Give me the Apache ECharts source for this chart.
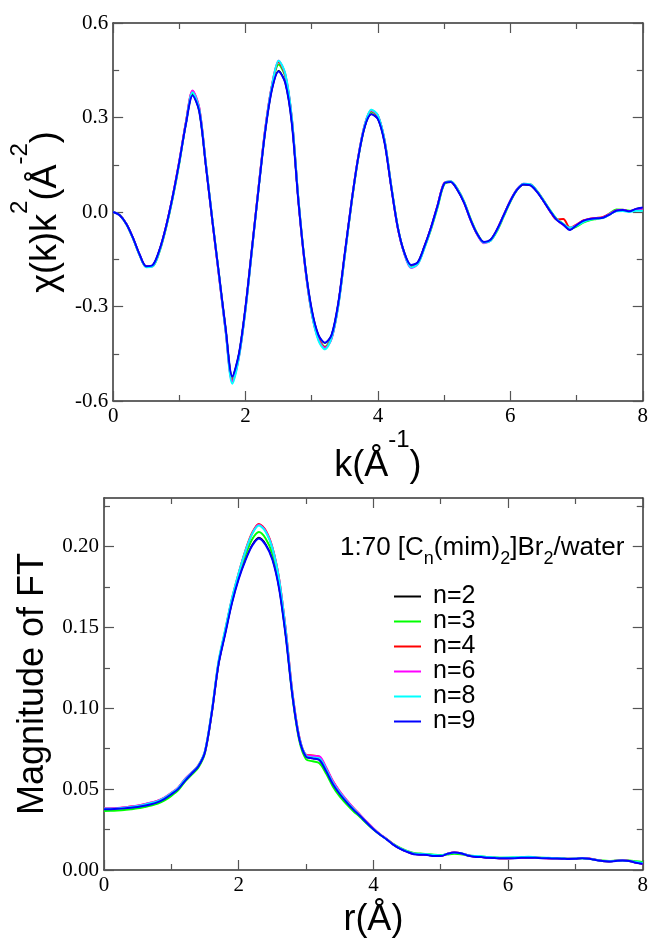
<!DOCTYPE html>
<html>
<head>
<meta charset="utf-8">
<script src="https://cdn.jsdelivr.net/npm/echarts@6/dist/echarts.min.js"></script>
<style>
html,body{margin:0;padding:0;background:#fff;}
#chart{width:651px;height:943px;}
</style>
</head>
<body>
<div id="chart"></div>
<script>
// ---------- DATA ----------
var seriesNames = ['n=2', 'n=3', 'n=4', 'n=6', 'n=8', 'n=9'];
var seriesColors = ['#000000', '#00ff00', '#ff0000', '#ff00ff', '#00ffff', '#0000ff'];

// k grid (Å^-1) and r grid (Å)
var kValues = [0.0,0.1,0.2,0.3,0.4,0.5,0.6,0.7,0.8,0.9,1.0,1.1,1.2,1.3,1.4,1.5,1.6,1.7,1.8,1.9,2.0,2.1,2.2,2.3,2.4,2.5,2.6,2.7,2.8,2.9,3.0,3.1,3.2,3.3,3.4,3.5,3.6,3.7,3.8,3.9,4.0,4.1,4.2,4.3,4.4,4.5,4.6,4.7,4.8,4.9,5.0,5.1,5.2,5.3,5.4,5.5,5.6,5.7,5.8,5.9,6.0,6.1,6.2,6.3,6.4,6.5,6.6,6.7,6.8,6.9,7.0,7.1,7.2,7.3,7.4,7.5,7.6,7.7,7.8,7.9,8.0];
var rValues = [0.0,0.1,0.2,0.3,0.4,0.5,0.6,0.7,0.8,0.9,1.0,1.1,1.2,1.3,1.4,1.5,1.6,1.7,1.8,1.9,2.0,2.1,2.2,2.3,2.4,2.5,2.6,2.7,2.8,2.9,3.0,3.1,3.2,3.3,3.4,3.5,3.6,3.7,3.8,3.9,4.0,4.1,4.2,4.3,4.4,4.5,4.6,4.7,4.8,4.9,5.0,5.1,5.2,5.3,5.4,5.5,5.6,5.7,5.8,5.9,6.0,6.1,6.2,6.3,6.4,6.5,6.6,6.7,6.8,6.9,7.0,7.1,7.2,7.3,7.4,7.5,7.6,7.7,7.8,7.9,8.0];

// chi(k)k^2 for each n
var chiN2 = [0.000,-0.010,-0.038,-0.082,-0.135,-0.172,-0.168,-0.120,-0.045,0.050,0.160,0.280,0.372,0.320,0.148,-0.030,-0.200,-0.370,-0.524,-0.450,-0.300,-0.110,0.080,0.260,0.390,0.448,0.410,0.280,0.030,-0.170,-0.310,-0.390,-0.416,-0.390,-0.290,-0.130,0.030,0.170,0.270,0.311,0.295,0.220,0.080,-0.050,-0.130,-0.169,-0.160,-0.110,-0.050,0.020,0.090,0.095,0.070,0.030,-0.025,-0.070,-0.095,-0.088,-0.055,-0.010,0.035,0.070,0.087,0.085,0.065,0.035,0.003,-0.025,-0.040,-0.056,-0.042,-0.028,-0.022,-0.020,-0.018,-0.008,0.004,0.006,0.002,0.010,0.013];
var chiN3 = [0.000,-0.010,-0.039,-0.084,-0.137,-0.174,-0.172,-0.126,-0.050,0.044,0.155,0.285,0.378,0.325,0.152,-0.028,-0.200,-0.375,-0.530,-0.455,-0.305,-0.112,0.082,0.265,0.400,0.468,0.430,0.292,0.036,-0.170,-0.318,-0.400,-0.428,-0.398,-0.296,-0.136,0.026,0.168,0.272,0.318,0.303,0.226,0.084,-0.048,-0.132,-0.172,-0.164,-0.114,-0.056,0.014,0.088,0.097,0.074,0.034,-0.022,-0.068,-0.096,-0.091,-0.060,-0.014,0.032,0.070,0.089,0.088,0.068,0.038,0.006,-0.022,-0.038,-0.054,-0.046,-0.034,-0.026,-0.022,-0.018,-0.004,0.008,0.007,0.004,0.006,0.006];
var chiN4 = [0.000,-0.010,-0.038,-0.083,-0.136,-0.173,-0.170,-0.122,-0.046,0.050,0.162,0.285,0.384,0.330,0.152,-0.030,-0.204,-0.378,-0.535,-0.458,-0.306,-0.112,0.084,0.268,0.402,0.476,0.435,0.294,0.034,-0.174,-0.320,-0.402,-0.430,-0.400,-0.296,-0.134,0.030,0.172,0.276,0.322,0.305,0.226,0.082,-0.050,-0.132,-0.174,-0.164,-0.112,-0.052,0.020,0.092,0.097,0.072,0.031,-0.025,-0.071,-0.097,-0.090,-0.056,-0.010,0.036,0.072,0.089,0.087,0.066,0.036,0.003,-0.024,-0.022,-0.050,-0.040,-0.027,-0.021,-0.019,-0.016,-0.006,0.004,0.006,0.002,0.008,0.010];
var chiN6 = [0.000,-0.010,-0.038,-0.083,-0.136,-0.174,-0.171,-0.123,-0.046,0.050,0.162,0.286,0.386,0.332,0.153,-0.030,-0.205,-0.380,-0.538,-0.460,-0.307,-0.113,0.084,0.269,0.404,0.480,0.437,0.295,0.034,-0.175,-0.321,-0.404,-0.432,-0.402,-0.297,-0.135,0.030,0.172,0.277,0.323,0.306,0.227,0.082,-0.052,-0.134,-0.178,-0.166,-0.113,-0.052,0.020,0.092,0.097,0.072,0.031,-0.026,-0.072,-0.099,-0.091,-0.056,-0.010,0.036,0.072,0.090,0.088,0.066,0.036,0.003,-0.024,-0.041,-0.052,-0.041,-0.028,-0.022,-0.020,-0.017,-0.006,0.005,0.007,0.002,0.009,0.010];
var chiN8 = [0.000,-0.010,-0.039,-0.084,-0.137,-0.175,-0.172,-0.124,-0.048,0.047,0.158,0.282,0.380,0.328,0.154,-0.026,-0.202,-0.380,-0.545,-0.462,-0.310,-0.116,0.080,0.265,0.402,0.480,0.440,0.298,0.038,-0.172,-0.322,-0.408,-0.436,-0.400,-0.300,-0.138,0.028,0.170,0.276,0.325,0.307,0.228,0.085,-0.048,-0.132,-0.176,-0.166,-0.116,-0.054,0.016,0.090,0.098,0.073,0.033,-0.024,-0.070,-0.097,-0.091,-0.058,-0.012,0.034,0.071,0.090,0.088,0.067,0.037,0.005,-0.023,-0.038,-0.050,-0.044,-0.032,-0.025,-0.021,-0.019,-0.008,0.002,0.003,0.000,0.004,0.004];
var chiN9 = [0.000,-0.010,-0.038,-0.082,-0.135,-0.172,-0.168,-0.120,-0.045,0.050,0.160,0.280,0.370,0.320,0.148,-0.030,-0.200,-0.370,-0.522,-0.450,-0.300,-0.110,0.080,0.260,0.390,0.446,0.410,0.280,0.030,-0.170,-0.310,-0.390,-0.415,-0.390,-0.290,-0.130,0.030,0.170,0.270,0.310,0.295,0.220,0.080,-0.050,-0.130,-0.168,-0.160,-0.110,-0.050,0.020,0.090,0.095,0.070,0.030,-0.025,-0.070,-0.095,-0.088,-0.055,-0.010,0.035,0.070,0.087,0.085,0.065,0.035,0.003,-0.025,-0.040,-0.057,-0.042,-0.028,-0.022,-0.020,-0.018,-0.008,0.004,0.006,0.002,0.010,0.014];

// Magnitude of FT for each n
var ftN2 = [0.0376,0.0377,0.0379,0.0382,0.0386,0.0391,0.0398,0.0408,0.0421,0.0441,0.0469,0.0501,0.0551,0.0596,0.0641,0.0731,0.0970,0.1270,0.1462,0.1652,0.1803,0.1918,0.2010,0.2055,0.2015,0.1924,0.1743,0.1442,0.1071,0.0810,0.0700,0.0690,0.0681,0.0611,0.0531,0.0471,0.0421,0.0376,0.0336,0.0293,0.0253,0.0219,0.0189,0.0156,0.0131,0.0113,0.0099,0.0095,0.0093,0.0087,0.0086,0.0100,0.0108,0.0104,0.0090,0.0082,0.0080,0.0076,0.0074,0.0072,0.0072,0.0073,0.0075,0.0076,0.0075,0.0073,0.0072,0.0071,0.0070,0.0068,0.0069,0.0073,0.0070,0.0062,0.0055,0.0052,0.0056,0.0059,0.0055,0.0045,0.0038];
var ftN3 = [0.0365,0.0366,0.0368,0.0371,0.0376,0.0381,0.0389,0.0398,0.0410,0.0430,0.0458,0.0492,0.0545,0.0588,0.0632,0.0725,0.0970,0.1275,0.1475,0.1665,0.1815,0.1945,0.2045,0.2090,0.2050,0.1955,0.1765,0.1455,0.1070,0.0800,0.0685,0.0672,0.0660,0.0595,0.0515,0.0455,0.0408,0.0365,0.0328,0.0288,0.0250,0.0218,0.0190,0.0160,0.0136,0.0118,0.0105,0.0102,0.0098,0.0094,0.0092,0.0096,0.0100,0.0098,0.0090,0.0086,0.0084,0.0080,0.0078,0.0076,0.0076,0.0077,0.0078,0.0078,0.0077,0.0075,0.0074,0.0073,0.0072,0.0070,0.0070,0.0072,0.0070,0.0064,0.0058,0.0056,0.0058,0.0060,0.0058,0.0054,0.0050];
var ftN4 = [0.0380,0.0381,0.0383,0.0387,0.0392,0.0398,0.0406,0.0416,0.0428,0.0448,0.0476,0.0508,0.0560,0.0602,0.0646,0.0735,0.0975,0.1280,0.1480,0.1675,0.1835,0.1975,0.2085,0.2140,0.2100,0.1995,0.1800,0.1480,0.1090,0.0822,0.0712,0.0708,0.0700,0.0630,0.0548,0.0485,0.0432,0.0385,0.0342,0.0298,0.0257,0.0221,0.0190,0.0157,0.0132,0.0114,0.0100,0.0096,0.0094,0.0088,0.0087,0.0101,0.0108,0.0104,0.0091,0.0083,0.0081,0.0077,0.0075,0.0073,0.0073,0.0074,0.0076,0.0077,0.0076,0.0074,0.0073,0.0072,0.0071,0.0069,0.0070,0.0074,0.0071,0.0063,0.0056,0.0053,0.0057,0.0060,0.0056,0.0047,0.0040];
var ftN6 = [0.0381,0.0382,0.0384,0.0388,0.0393,0.0399,0.0407,0.0417,0.0429,0.0449,0.0477,0.0509,0.0561,0.0603,0.0646,0.0734,0.0974,0.1279,0.1478,0.1672,0.1832,0.1972,0.2080,0.2135,0.2096,0.1992,0.1798,0.1478,0.1089,0.0821,0.0711,0.0705,0.0702,0.0632,0.0549,0.0486,0.0433,0.0386,0.0342,0.0298,0.0257,0.0221,0.0190,0.0157,0.0132,0.0114,0.0100,0.0096,0.0094,0.0088,0.0087,0.0101,0.0108,0.0104,0.0091,0.0083,0.0081,0.0077,0.0075,0.0073,0.0073,0.0074,0.0076,0.0077,0.0076,0.0074,0.0073,0.0072,0.0071,0.0069,0.0070,0.0074,0.0071,0.0063,0.0056,0.0053,0.0057,0.0060,0.0056,0.0046,0.0039];
var ftN8 = [0.0378,0.0379,0.0381,0.0385,0.0390,0.0396,0.0404,0.0414,0.0426,0.0446,0.0474,0.0506,0.0558,0.0600,0.0645,0.0738,0.0982,0.1290,0.1488,0.1680,0.1836,0.1972,0.2078,0.2130,0.2092,0.1990,0.1796,0.1475,0.1085,0.0818,0.0706,0.0695,0.0690,0.0622,0.0540,0.0478,0.0426,0.0380,0.0338,0.0294,0.0254,0.0219,0.0189,0.0157,0.0133,0.0116,0.0102,0.0099,0.0097,0.0092,0.0090,0.0100,0.0106,0.0103,0.0092,0.0087,0.0085,0.0080,0.0078,0.0076,0.0077,0.0079,0.0080,0.0082,0.0079,0.0076,0.0075,0.0073,0.0072,0.0070,0.0071,0.0073,0.0070,0.0063,0.0056,0.0054,0.0057,0.0059,0.0056,0.0049,0.0044];
var ftN9 = [0.0375,0.0376,0.0378,0.0381,0.0385,0.0390,0.0397,0.0407,0.0420,0.0440,0.0468,0.0500,0.0550,0.0595,0.0640,0.0730,0.0970,0.1270,0.1460,0.1650,0.1800,0.1915,0.2005,0.2050,0.2010,0.1920,0.1740,0.1440,0.1070,0.0810,0.0700,0.0690,0.0680,0.0610,0.0530,0.0470,0.0420,0.0375,0.0335,0.0292,0.0252,0.0218,0.0188,0.0155,0.0130,0.0112,0.0098,0.0094,0.0093,0.0086,0.0086,0.0100,0.0108,0.0104,0.0090,0.0082,0.0080,0.0076,0.0074,0.0072,0.0072,0.0073,0.0075,0.0076,0.0075,0.0073,0.0072,0.0071,0.0070,0.0068,0.0069,0.0073,0.0070,0.0062,0.0055,0.0052,0.0056,0.0059,0.0055,0.0045,0.0038];

var chiSets = [chiN2, chiN3, chiN4, chiN6, chiN8, chiN9];
var ftSets = [ftN2, ftN3, ftN4, ftN6, ftN8, ftN9];

// tick values
var xTicks = [0, 2, 4, 6, 8];
var chiTicks = [-0.6, -0.3, 0.0, 0.3, 0.6];
var ftMajorTicks = [0, 0.05, 0.10, 0.15, 0.20];
var ftMinorTicks = [0.025, 0.075, 0.125, 0.175, 0.225];

// ---------- STYLE ----------
var serif = 'Liberation Serif';
var sans = 'Liberation Sans';
var frameColor = '#333';
var tickColor = '#555';

function boxAxis(extra) {
  var base = {
    type: 'value',
    splitLine: { show: false },
    axisLine: { show: true, onZero: false, lineStyle: { color: frameColor, width: 1.5 } },
    axisTick: { show: true, inside: true, length: 10, lineStyle: { color: tickColor, width: 1.2 } },
    minorTick: { show: true, splitNumber: 2, length: 6, lineStyle: { color: tickColor, width: 1.2 } },
    axisLabel: { show: false }
  };
  for (var key in extra) base[key] = extra[key];
  return base;
}

var nameRich = {
  m: { fontFamily: sans, fontSize: 36, lineHeight: 36, color: '#000', padding: [20, 0, 0, 0], verticalAlign: 'top' },
  s: { fontFamily: sans, fontSize: 24, lineHeight: 24, color: '#000', verticalAlign: 'top' },
  p: { fontFamily: sans, fontSize: 36, lineHeight: 36, color: '#000' }
};

var chart = echarts.init(document.getElementById('chart'), null, { renderer: 'canvas' });

var series = [];
seriesNames.forEach(function (nm, i) {
  series.push({
    name: nm, type: 'line', xAxisIndex: 0, yAxisIndex: 0,
    data: kValues.map(function (k, j) { return [k, chiSets[i][j]]; }),
    showSymbol: false, symbol: 'none', smooth: 0.3,
    lineStyle: { color: seriesColors[i], width: i === 0 ? 1.6 : 2 },
    itemStyle: { color: seriesColors[i] },
    z: 2 + i, animation: false
  });
});
seriesNames.forEach(function (nm, i) {
  series.push({
    name: nm, type: 'line', xAxisIndex: 2, yAxisIndex: 2,
    data: rValues.map(function (r, j) { return [r, ftSets[i][j]]; }),
    showSymbol: false, symbol: 'none', smooth: 0.3,
    lineStyle: { color: seriesColors[i], width: i === 0 ? 1.6 : 2 },
    itemStyle: { color: seriesColors[i] },
    z: 2 + i, animation: false
  });
});

var option = {
  backgroundColor: '#fff',
  animation: false,
  title: {
    left: 335, top: 530,
    text: '{m|1:70 [C}{sub|n}{m|(mim)}{sub|2}{m|]Br}{sub|2}{m|/water}',
    textStyle: {
      fontWeight: 'normal',
      rich: {
        m: { fontFamily: sans, fontSize: 26, lineHeight: 26, color: '#000', verticalAlign: 'top' },
        sub: { fontFamily: sans, fontSize: 18, lineHeight: 18, color: '#000', verticalAlign: 'top', padding: [15, 0, 0, 0] }
      }
    }
  },
  legend: {
    data: seriesNames,
    orient: 'vertical',
    left: 389, top: 579,
    itemWidth: 27, itemHeight: 2, itemGap: 0,
    icon: 'rect',
    selectedMode: false,
    textStyle: { fontFamily: sans, fontSize: 25, color: '#000', lineHeight: 25, padding: [0, 0, 0, 7] }
  },
  grid: [
    { left: 104, top: 23, width: 539, height: 378 },
    { left: 104, top: 498, width: 539, height: 372 }
  ],
  xAxis: [
    boxAxis({ gridIndex: 0, position: 'bottom', min: 0, max: 8, interval: 2,
      axisLabel: { show: true, margin: 5, color: '#000', fontFamily: serif, fontSize: 21 },
      name: '{m|k(Å}{s|-1}{m|)}', nameLocation: 'middle', nameGap: 21,
      nameTextStyle: { rich: nameRich } }),
    boxAxis({ gridIndex: 0, position: 'top', min: 0, max: 8, interval: 2 }),
    boxAxis({ gridIndex: 1, position: 'bottom', min: 0, max: 8, interval: 2,
      axisLabel: { show: true, margin: 5, color: '#000', fontFamily: serif, fontSize: 21 },
      name: '{p|r(Å)}', nameLocation: 'middle', nameGap: 32,
      nameTextStyle: { rich: nameRich } }),
    boxAxis({ gridIndex: 1, position: 'top', min: 0, max: 8, interval: 2 })
  ],
  yAxis: [
    boxAxis({ gridIndex: 0, position: 'left', min: -0.6, max: 0.6, interval: 0.3,
      axisLabel: { show: true, margin: 5, color: '#000', fontFamily: serif, fontSize: 21,
        formatter: function (v) { return v.toFixed(1); } },
      name: '{m|χ(k)k}{s|2}{m|(Å}{s|-2}{m|)}', nameLocation: 'middle', nameRotate: 90, nameGap: 37,
      nameTextStyle: { rich: nameRich } }),
    boxAxis({ gridIndex: 0, position: 'right', min: -0.6, max: 0.6, interval: 0.3 }),
    boxAxis({ gridIndex: 1, position: 'left', min: 0, max: 0.23,
      minorTick: { show: false },
      axisTick: { show: true, inside: true, length: 10, customValues: ftMajorTicks, lineStyle: { color: tickColor, width: 1.2 } },
      axisLabel: { show: true, margin: 5, color: '#000', fontFamily: serif, fontSize: 21, customValues: ftMajorTicks,
        formatter: function (v) { return v.toFixed(2); } },
      name: '{p|Magnitude of FT}', nameLocation: 'middle', nameRotate: 90, nameGap: 47,
      nameTextStyle: { rich: nameRich } }),
    boxAxis({ gridIndex: 1, position: 'right', min: 0, max: 0.23,
      minorTick: { show: false },
      axisTick: { show: true, inside: true, length: 10, customValues: ftMajorTicks, lineStyle: { color: tickColor, width: 1.2 } } }),
    boxAxis({ gridIndex: 1, position: 'left', min: 0, max: 0.23,
      minorTick: { show: false }, axisLine: { show: false, onZero: false },
      axisTick: { show: true, inside: true, length: 6, customValues: ftMinorTicks, lineStyle: { color: tickColor, width: 1.2 } } }),
    boxAxis({ gridIndex: 1, position: 'right', min: 0, max: 0.23,
      minorTick: { show: false }, axisLine: { show: false, onZero: false },
      axisTick: { show: true, inside: true, length: 6, customValues: ftMinorTicks, lineStyle: { color: tickColor, width: 1.2 } } })
  ],
  series: series
};
chart.setOption(option);
</script>
</body>
</html>
